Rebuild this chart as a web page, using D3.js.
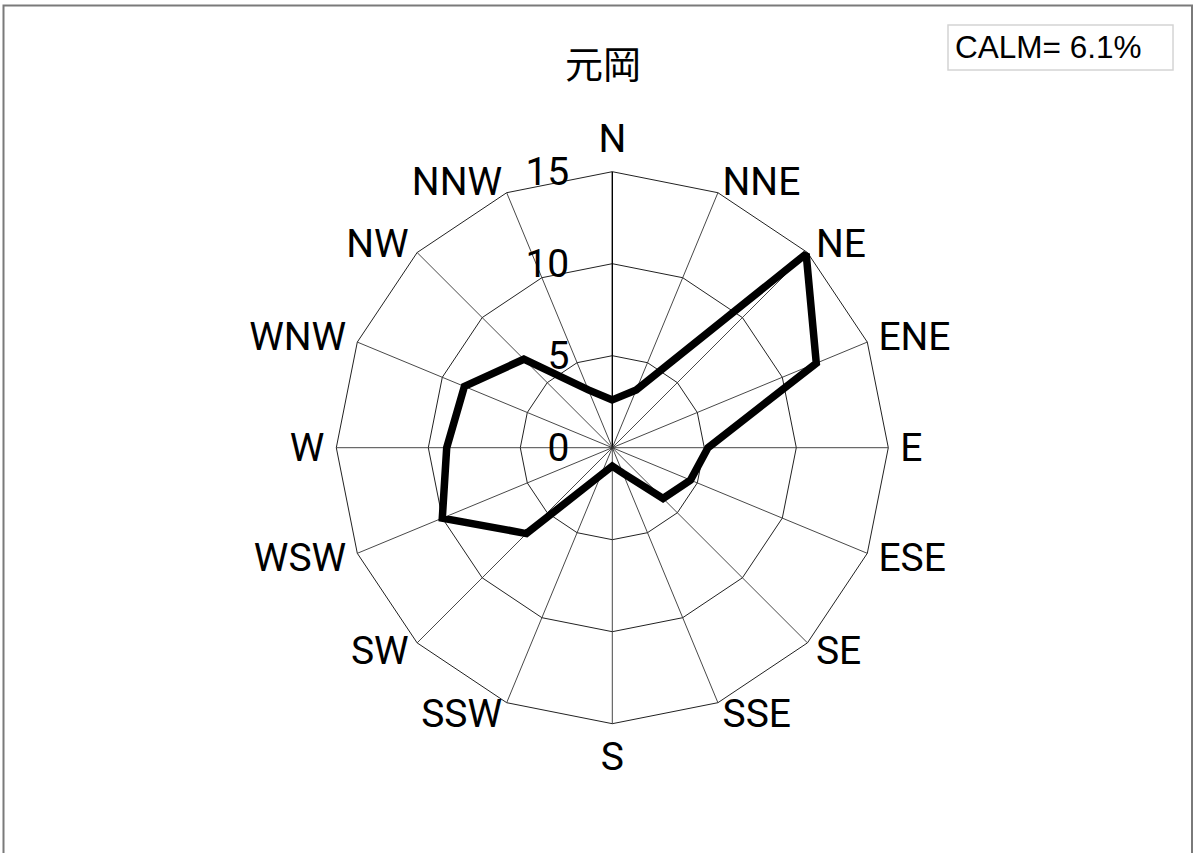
<!DOCTYPE html>
<html><head><meta charset="utf-8">
<script src="https://cdn.jsdelivr.net/npm/d3@7"></script>
<style>html,body{margin:0;padding:0;background:#fff;}svg{display:block;}</style>
</head><body>
<svg id="chart" width="1193" height="853"></svg>
<script>
const title = "元岡";
const calmText = "CALM= 6.1%";
const directions = ["N","NNE","NE","ENE","E","ESE","SE","SSE","S","SSW","SW","WSW","W","WNW","NW","NNW"];
const frequency = [2.6, 3.4, 14.9, 12.0, 5.2, 4.6, 3.9, 1.5, 1.0, 1.6, 6.6, 10.0, 9.0, 8.7, 6.8, 3.4];
const ringTicks = [0, 5, 10, 15];

const svg = d3.select("#chart");
const cx = 612.3, cy = 447.7;
const r = d3.scaleLinear().domain([0, 15]).range([0, 276]);
const ang = d3.scaleLinear().domain([0, directions.length]).range([0, 2 * Math.PI]);
const pt = (i, v) => [cx + r(v) * Math.sin(ang(i)), cy - r(v) * Math.cos(ang(i))];

// outer frame
svg.append("rect").attr("x", 3.5).attr("y", 5.5).attr("width", 1188.5).attr("height", 900)
  .attr("fill", "none").attr("stroke", "#7a7a7a").attr("stroke-width", 2);

// title
svg.append("text").attr("x", 603).attr("y", 61).attr("text-anchor", "middle")
  .attr("dominant-baseline", "central")
  .attr("font-family", "'Noto Sans CJK JP', sans-serif").attr("font-size", 38).attr("fill", "#000")
  .text(title);

// calm box
svg.append("rect").attr("x", 948).attr("y", 25).attr("width", 225).attr("height", 45)
  .attr("fill", "#fff").attr("stroke", "#d4d4d4").attr("stroke-width", 1.5);
svg.append("text").attr("x", 955).attr("y", 58)
  .attr("font-family", "'Liberation Sans', Arial, sans-serif").attr("font-size", 31.5).attr("fill", "#000")
  .text(calmText);

const g = svg.append("g");
// ring polygons
ringTicks.filter(t => t > 0).forEach(t => {
  g.append("path")
    .attr("d", d3.line()(directions.map((d, i) => pt(i, t))) + "Z")
    .attr("fill", "none").attr("stroke", "#222").attr("stroke-width", 1);
});
// spokes
directions.forEach((d, i) => {
  const [x, y] = pt(i, 15);
  g.append("line").attr("x1", cx).attr("y1", cy).attr("x2", x).attr("y2", y)
    .attr("stroke", i === 0 ? "#000" : "#333").attr("stroke-width", i === 0 ? 1.4 : 0.9);
});

// tick labels
ringTicks.forEach(t => {
  g.append("text").attr("x", cx - 43).attr("y", cy - r(t))
    .attr("text-anchor", "end").attr("dominant-baseline", "central")
    .attr("font-family", "Roboto, sans-serif").attr("font-size", 39).attr("fill", "#000")
    .text(t);
});

// direction labels
directions.forEach((d, i) => {
  const s = Math.sin(ang(i)), c = -Math.cos(ang(i));
  const [vx, vy] = pt(i, 15);
  let x = vx + 12 * s, y = vy + 12 * c, anchor = "middle";
  if (Math.abs(s) < 0.01) { y = vy + 33 * c; }
  else anchor = s > 0 ? "start" : "end";
  g.append("text").attr("x", x).attr("y", y)
    .attr("text-anchor", anchor).attr("dominant-baseline", "central")
    .attr("font-family", "Roboto, sans-serif").attr("font-size", 39).attr("fill", "#000")
    .text(d);
});

// data line
const radial = d3.lineRadial()
  .angle((d, i) => ang(i))
  .radius(d => r(d))
  .curve(d3.curveLinearClosed);
g.append("path").attr("transform", `translate(${cx},${cy})`)
  .attr("d", radial(frequency))
  .attr("fill", "none").attr("stroke", "#000").attr("stroke-width", 7.5)
  .attr("stroke-linejoin", "miter").attr("stroke-miterlimit", 2);
</script>
</body></html>
